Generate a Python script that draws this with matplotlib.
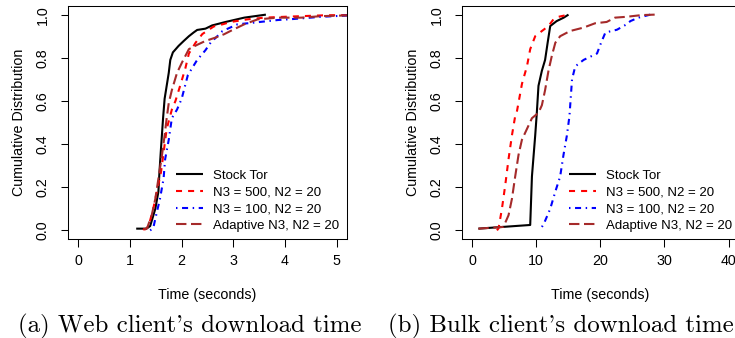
import matplotlib
matplotlib.use("Agg")
import matplotlib.pyplot as plt

# web client download time (panel a)
web_stock_t = [1.12, 1.32, 1.39, 1.45, 1.49, 1.55, 1.57, 1.60, 1.64, 1.67, 1.75, 1.78, 1.83, 1.94, 2.04, 2.14, 2.23, 2.30, 2.46, 2.59, 2.85, 3.21, 3.63]
web_stock_p = [0.008, 0.008, 0.02, 0.068, 0.10, 0.18, 0.27, 0.38, 0.52, 0.61, 0.73, 0.79, 0.825, 0.855, 0.878, 0.90, 0.917, 0.929, 0.935, 0.95, 0.966, 0.986, 1.0]
web_red_t = [1.25, 1.30, 1.36, 1.45, 1.52, 1.60, 1.65, 1.71, 1.81, 1.88, 1.97, 2.07, 2.14, 2.27, 2.40, 2.62, 2.79, 2.95, 3.27, 3.60, 3.99, 4.44, 4.77, 5.3]
web_red_p = [0.005, 0.005, 0.02, 0.10, 0.18, 0.27, 0.36, 0.47, 0.56, 0.60, 0.67, 0.75, 0.82, 0.87, 0.91, 0.945, 0.955, 0.966, 0.978, 0.986, 0.99, 0.994, 0.997, 0.998]
web_blue_t = [1.39, 1.45, 1.49, 1.58, 1.65, 1.68, 1.75, 1.81, 1.91, 2.00, 2.12, 2.30, 2.46, 2.56, 2.69, 2.79, 3.08, 3.40, 3.86, 4.18, 4.70, 5.3]
web_blue_p = [0.0, 0.01, 0.054, 0.146, 0.24, 0.33, 0.42, 0.52, 0.56, 0.61, 0.72, 0.79, 0.835, 0.87, 0.90, 0.924, 0.955, 0.963, 0.975, 0.98, 0.99, 0.997]
web_brown_t = [1.27, 1.33, 1.42, 1.49, 1.55, 1.62, 1.67, 1.71, 1.75, 1.81, 1.91, 2.01, 2.14, 2.30, 2.46, 2.66, 2.82, 3.01, 3.21, 3.47, 3.86, 4.31, 4.70, 5.3]
web_brown_p = [0.005, 0.01, 0.07, 0.146, 0.24, 0.35, 0.44, 0.52, 0.59, 0.65, 0.73, 0.78, 0.84, 0.86, 0.878, 0.894, 0.909, 0.932, 0.955, 0.978, 0.986, 0.986, 0.993, 0.997]

# bulk client download time (panel b)
bulk_stock_t = [1.0, 9.08, 9.35, 9.86, 10.1, 10.37, 10.9, 11.4, 11.8, 12.2, 13.2, 14.3, 15.05]
bulk_stock_p = [0.008, 0.025, 0.25, 0.44, 0.54, 0.67, 0.74, 0.79, 0.87, 0.947, 0.97, 0.986, 1.0]
bulk_red_t = [3.9, 4.15, 4.67, 5.19, 5.7, 6.23, 6.74, 7.0, 7.8, 8.57, 9.08, 9.86, 10.9, 11.93, 12.7, 13.5, 15.05]
bulk_red_p = [0.0, 0.01, 0.10, 0.21, 0.33, 0.44, 0.53, 0.55, 0.68, 0.76, 0.84, 0.90, 0.924, 0.947, 0.978, 0.99, 1.0]
bulk_blue_t = [10.9, 11.2, 12.2, 13.0, 13.75, 14.27, 14.8, 15.2, 15.6, 16.1, 17.4, 19.5, 20.0, 20.8, 22.6, 24.1, 24.7, 25.95, 27.8]
bulk_blue_p = [0.016, 0.03, 0.10, 0.18, 0.25, 0.35, 0.44, 0.53, 0.70, 0.76, 0.79, 0.82, 0.86, 0.917, 0.93, 0.955, 0.97, 0.986, 1.0]
bulk_brown_t = [1.0, 4.9, 5.7, 6.23, 6.74, 7.26, 7.79, 8.57, 9.35, 10.37, 10.9, 11.4, 11.93, 12.46, 13.0, 13.75, 15.3, 17.4, 19.2, 21.0, 22.3, 24.1, 26.5, 28.5]
bulk_brown_p = [0.008, 0.016, 0.07, 0.146, 0.25, 0.35, 0.42, 0.47, 0.52, 0.545, 0.58, 0.65, 0.74, 0.81, 0.87, 0.90, 0.924, 0.94, 0.96, 0.966, 0.986, 0.99, 0.998, 1.0]

labels = ["Stock Tor", "N3 = 500, N2 = 20", "N3 = 100, N2 = 20", "Adaptive N3, N2 = 20"]
colors = ["black", "red", "blue", "#A52A2A"]
styles = ["-", (0, (2.9, 2.9)), (0, (0.7, 2.2, 2.9, 2.2)), (0, (5.0, 2.2))]
y_ticks = [0.0, 0.2, 0.4, 0.6, 0.8, 1.0]
web_ticks = [0, 1, 2, 3, 4, 5]
bulk_ticks = [0, 10, 20, 30, 40]

plt.rcParams['font.family'] = ['Liberation Sans', 'DejaVu Sans']

fig = plt.figure(figsize=(7.35, 3.38), dpi=100)
W, H = 735.0, 338.0

def panel(left, right, series, xticks, caption, cap_x):
    ax = fig.add_axes([left / W, (H - 239) / H, (right - left) / W, 233 / H])
    for (t, p), lab, c, ls in zip(series, labels, colors, styles):
        ax.plot(t, p, color=c, linestyle=ls, lw=1.5, label=lab, solid_capstyle='butt', dash_capstyle='butt')
    span = xticks[-1] - xticks[0]
    ax.set_xlim(xticks[0] - 0.04 * span, xticks[-1] + 0.04 * span)
    ax.set_ylim(-0.04, 1.04)
    ax.set_xticks(xticks)
    ax.set_xticklabels([str(v) for v in xticks])
    ax.set_yticks(y_ticks)
    ax.set_yticklabels(["%.1f" % v for v in y_ticks], rotation=90, va='center')
    ax.tick_params(axis='x', direction='out', length=6, width=0.75, labelsize=10.3, pad=5)
    ax.tick_params(axis='y', direction='out', length=5, width=0.75, labelsize=10.3, pad=8)
    for s in ax.spines.values():
        s.set_linewidth(0.75)
    ax.set_xlabel("Time (seconds)", fontsize=10.3, labelpad=14)
    ax.set_ylabel("Cumulative Distribution", fontsize=10.3, labelpad=7)
    ax.legend(loc='upper left', bbox_to_anchor=(0.388, 0.297), frameon=False, fontsize=9.5,
              handlelength=2.0, handletextpad=0.8, labelspacing=0.33, borderpad=0, borderaxespad=0)
    fig.text(cap_x / W, 6 / H, caption, fontsize=17.9, family=['cmr10', 'DejaVu Serif'], ha='left', va='baseline')
    return ax

panel(68, 347, [(web_stock_t, web_stock_p), (web_red_t, web_red_p), (web_blue_t, web_blue_p), (web_brown_t, web_brown_p)],
      web_ticks, "(a) Web client's download time", 18)
panel(461.7, 738.8, [(bulk_stock_t, bulk_stock_p), (bulk_red_t, bulk_red_p), (bulk_blue_t, bulk_blue_p), (bulk_brown_t, bulk_brown_p)],
      bulk_ticks, "(b) Bulk client's download time", 388)

fig.savefig("out.png", dpi=100)
